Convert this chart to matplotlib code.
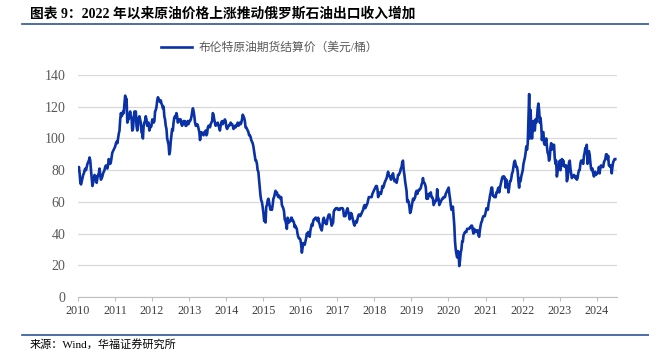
import matplotlib
matplotlib.use("Agg")
import matplotlib.pyplot as plt
import matplotlib.dates as mdates
import pandas as pd

plt.rcParams['font.family'] = ['Liberation Serif', 'Noto Sans CJK SC']

# Brent futures settlement price, roughly weekly (USD/bbl)
brent = {
    2010: [80, 82, 78, 72, 71, 73, 75, 77, 78, 80, 81, 80, 82, 84, 85, 86, 88, 86, 80, 75, 70,
           72, 74, 77, 75, 76, 72, 75, 77, 78, 81, 77, 74, 75, 76, 78, 79, 80, 82, 83, 82, 81, 83,
           87, 86, 84, 85, 88, 91, 92, 93, 94],
    2011: [95, 97, 98, 97, 100, 103, 105, 112, 116, 114, 115, 117, 116, 122, 127, 124, 125,
           110, 114, 112, 115, 117, 114, 113, 105, 106, 112, 117, 117, 117, 108, 105, 108, 113,
           114, 112, 110, 104, 103, 100, 108, 110, 111, 114, 112, 108, 109, 110, 105, 108, 107, 108],
    2012: [112, 111, 110, 111, 117, 118, 120, 124, 126, 125, 124, 123, 124, 122, 121, 119, 120,
           114, 112, 108, 106, 100, 98, 96, 90, 92, 98, 102, 106, 105, 110, 113, 114, 113,
           116, 114, 110, 111, 112, 111, 112, 109, 108, 109, 111, 110, 111, 108, 108, 110, 111, 109],
    2013: [111, 111, 112, 114, 117, 119, 117, 114, 110, 108, 108, 109, 108, 106, 104, 99, 102,
           104, 103, 103, 102, 104, 103, 105, 102, 103, 107, 108, 108, 107, 109, 110, 111, 116,
           115, 112, 110, 108, 109, 109, 110, 108, 107, 105, 108, 110, 111, 109, 110, 111, 112, 111],
    2014: [107, 106, 107, 108, 108, 109, 110, 109, 109, 108, 106, 107, 108, 107, 108, 109, 110,
           108, 109, 110, 109, 110, 112, 115, 114, 113, 111, 107, 107, 106, 105, 104, 102, 102,
           101, 99, 98, 97, 95, 92, 89, 86, 86, 84, 80, 79, 74, 69, 64, 61, 60, 57],
    2015: [53, 48, 48, 47, 57, 58, 61, 62, 60, 57, 55, 56, 55, 58, 62, 63, 65, 67, 65, 66, 64,
           63, 64, 63, 62, 63, 58, 57, 56, 54, 49, 48, 46, 43, 50, 48, 47, 48, 48, 50, 50, 48, 48,
           47, 44, 45, 44, 43, 40, 38, 37, 37],
    2016: [36, 33, 28, 31, 34, 33, 33, 35, 37, 40, 39, 41, 40, 38, 42, 44, 46, 45, 48, 49, 49,
           50, 50, 49, 48, 50, 47, 46, 44, 43, 42, 45, 49, 50, 47, 48, 46, 46, 49, 51, 52, 52, 50,
           48, 45, 46, 47, 54, 55, 55, 56, 56],
    2017: [56, 55, 55, 55, 56, 56, 56, 56, 55, 51, 51, 51, 53, 55, 56, 54, 52, 49, 50, 53, 52,
           50, 48, 46, 45, 47, 48, 47, 49, 51, 52, 52, 51, 52, 53, 54, 55, 57, 58, 56, 57, 58, 59,
           61, 63, 63, 63, 63, 63, 65, 66, 67],
    2018: [68, 69, 70, 70, 68, 63, 65, 66, 65, 65, 67, 70, 69, 70, 72, 73, 74, 75, 77, 79, 77,
           76, 76, 74, 75, 77, 78, 75, 73, 74, 73, 72, 74, 77, 77, 78, 79, 81, 82, 85, 86, 80, 77,
           73, 70, 67, 60, 61, 60, 57, 53, 54],
    2019: [57, 60, 62, 61, 62, 63, 66, 67, 65, 67, 67, 68, 68, 69, 71, 72, 75, 72, 72, 71, 69,
           62, 63, 62, 65, 65, 64, 66, 63, 63, 62, 58, 59, 60, 61, 61, 68, 63, 62, 58, 59, 60, 61,
           62, 62, 63, 63, 63, 65, 66, 67, 68],
    2020: [69, 65, 62, 58, 55, 55, 57, 51, 45, 35, 30, 27, 25, 29, 28, 19.5, 23, 28, 30, 35, 35,
           39, 40, 41, 41, 41, 43, 43, 43, 43, 44, 44, 45, 45, 42, 40, 43, 42, 41, 42, 42, 42, 39,
           38, 42, 45, 47, 48, 50, 51, 51, 51],
    2021: [54, 56, 55, 55, 59, 61, 64, 66, 69, 69, 64, 64, 63, 63, 63, 66, 66, 68, 69, 66, 69,
           71, 73, 75, 76, 75, 76, 75, 69, 74, 71, 71, 66, 69, 73, 73, 75, 78, 79, 82, 85, 86, 84,
           82, 82, 79, 73, 69, 75, 73, 76, 78],
    2022: [80, 84, 86, 88, 91, 95, 93, 97, 112, 128, 100, 118, 105, 100, 105, 111, 106, 105, 112,
           110, 113, 119, 122, 118, 110, 113, 108, 99, 104, 104, 97, 96, 97, 100, 95, 91, 90, 86,
           88, 94, 97, 93, 96, 95, 96, 88, 84, 86, 76, 79, 81, 84],
    2023: [86, 80, 84, 87, 83, 86, 83, 82, 83, 83, 73, 75, 79, 85, 86, 81, 78, 75, 76, 76, 77,
           76, 75, 76, 74, 75, 78, 80, 80, 84, 86, 86, 85, 84, 89, 91, 94, 94, 96, 84, 90, 92, 90,
           85, 81, 80, 81, 78, 76, 77, 79, 77],
    2024: [78, 78, 79, 82, 78, 82, 83, 82, 82, 82, 85, 86, 87, 90, 90, 87, 89, 83, 83, 82, 83,
           78, 82, 85, 86, 87, 87],
}

legend_label = "布伦特原油期货结算价（美元/桶）"
title = "图表 9：2022 年以来原油价格上涨推动俄罗斯石油出口收入增加"
source = "来源：Wind，华福证券研究所"

dates = []
values = []
for year, vals in brent.items():
    dates += list(pd.date_range(f"{year}-01-03", periods=len(vals), freq="7D"))
    values += vals

fig = plt.figure(figsize=(6.49, 3.54), dpi=100)
ax = fig.add_axes([0.1202, 0.161, 0.8305, 0.627])

ax.plot(dates, values, color="#0a32a6", linewidth=1.9, label=legend_label)

ax.set_ylim(0, 140)
ax.set_yticks(range(0, 141, 20))
ax.set_xlim(pd.Timestamp("2010-01-01"), pd.Timestamp("2024-07-20"))
ax.xaxis.set_major_locator(mdates.YearLocator())
ax.xaxis.set_major_formatter(mdates.DateFormatter("%Y"))

ax.grid(axis="y", color="#d9d9d9", linewidth=0.9)
ax.set_axisbelow(True)
for side in ["top", "right", "left"]:
    ax.spines[side].set_visible(False)
ax.spines["bottom"].set_color("#bfbfbf")
ax.tick_params(axis="y", length=0, labelsize=10, labelcolor="#595959", pad=9)
ax.tick_params(axis="x", length=3, color="#bfbfbf", labelsize=8.7, labelcolor="#404040", pad=3)

leg = fig.legend(loc="center left", bbox_to_anchor=(0.248, 0.864), frameon=False,
                 fontsize=8.5, handlelength=2.6, handletextpad=0.6, borderaxespad=0,
                 borderpad=0)
for t in leg.get_texts():
    t.set_color("#595959")

fig.text(0.046, 0.96, title, fontsize=9.9, fontweight="bold", va="center", ha="left")
fig.add_artist(plt.Line2D([0.034, 1.0], [0.932, 0.932], color="#2f5597", linewidth=1.2))
fig.add_artist(plt.Line2D([0.034, 1.0], [0.053, 0.053], color="#2f5597", linewidth=1.2))
fig.text(0.046, 0.026, source, fontsize=8, va="center", ha="left")

fig.savefig("out.png", dpi=100)
